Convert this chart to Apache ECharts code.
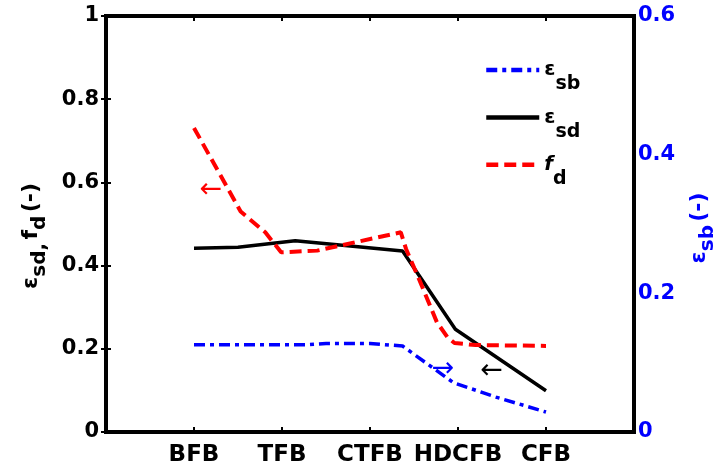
<!DOCTYPE html>
<html><head><meta charset="utf-8">
<script src="https://cdn.jsdelivr.net/npm/echarts@6/dist/echarts.min.js"></script>
<style>html,body{margin:0;padding:0;background:#fff}#c{width:716px;height:467px}</style>
</head><body><div id="c"></div>
<script>
// ---- data ----
const categories = ['BFB', 'TFB', 'CTFB', 'HDCFB', 'CFB'];
// [x position (1..5 = categories), value]
const epsSb = [[1, 0.126], [2.3, 0.126], [2.5, 0.1277], [3, 0.1277], [3.37, 0.124], [3.95, 0.071], [4.43, 0.0504], [5, 0.0288]]; // right axis
const epsSd = [[1, 0.442], [1.5, 0.444], [2.15, 0.460], [3.37, 0.435], [3.97, 0.247], [5, 0.099]];
const fd = [[1, 0.731], [1.53, 0.53], [1.81, 0.48], [1.99, 0.432], [2.4, 0.436], [3.35, 0.48], [3.41, 0.44], [3.58, 0.356], [3.76, 0.264], [3.88, 0.228], [3.96, 0.214], [4.2, 0.209], [5, 0.207]];
const leftRange = [0, 1, 0.2];
const rightRange = [0, 0.6, 0.2];
// annotation arrows (data coordinates)
const arrowFd = [1.19, 0.582];
const arrowSb = [3.83, 0.091];
const arrowSd = [4.38, 0.146];

const FONT = 'DejaVu Sans';
const BLUE = '#0000ff', RED = '#ff0000', BLACK = '#000000';

function richSet(base, sub, L, color) {
  return {
    b: {fontFamily: FONT, fontWeight: 'bold', fontSize: base, lineHeight: L, verticalAlign: 'middle', color: color},
    bi: {fontFamily: FONT, fontWeight: 'bold', fontStyle: 'italic', fontSize: base, lineHeight: L, verticalAlign: 'middle', color: color},
    s: {fontFamily: FONT, fontWeight: 'bold', fontSize: sub, lineHeight: sub, height: sub, verticalAlign: 'bottom', color: color}
  };
}

const chart = echarts.init(document.getElementById('c'), null, {renderer: 'canvas'});

function arrowPoint(coord, text, color) {
  return {
    silent: true,
    symbol: 'circle', symbolSize: 0,
    label: {show: true, position: 'inside', formatter: text, color: color, fontFamily: FONT, fontSize: 27, fontWeight: 'normal'},
    data: [{coord: coord}]
  };
}

const legendNames = {
  'eps_sb': '{b|ε}{s|sb}',
  'eps_sd': '{b|ε}{s|sd}',
  'f_d': '{bi|f}{s|d}'
};

const axisLineStyle = {color: BLACK, width: 4, cap: 'square'};

chart.setOption({
  animation: false,
  backgroundColor: '#fff',
  grid: {left: 106, top: 16, width: 528, height: 416, show: false, containLabel: false, outerBoundsMode: 'none'},
  legend: {
    orient: 'vertical', left: 484, top: 60, padding: 0, itemGap: 13.4,
    itemWidth: 53, itemHeight: 14, selectedMode: false,
    itemStyle: {opacity: 0},
    lineStyle: {width: 4.5},
    data: ['eps_sb', 'eps_sd', 'f_d'],
    formatter: n => legendNames[n],
    textStyle: {rich: richSet(20, 19, 48, BLACK)}
  },
  xAxis: [{
    type: 'value', min: 0, max: 6, interval: 1, position: 'bottom',
    axisLine: {show: true, onZero: false, lineStyle: axisLineStyle},
    axisTick: {show: true, inside: true, length: 5, lineStyle: {color: BLACK, width: 2}},
    splitLine: {show: false},
    axisLabel: {
      margin: 12, color: BLACK, fontFamily: FONT, fontWeight: 'bold', fontSize: 23,
      formatter: v => (v >= 1 && v <= categories.length) ? categories[v - 1] : ''
    }
  }, {
    type: 'value', min: 0, max: 6, interval: 1, position: 'top',
    axisLine: {show: true, onZero: false, lineStyle: axisLineStyle},
    axisTick: {show: true, inside: true, length: 5, lineStyle: {color: BLACK, width: 2}},
    splitLine: {show: false}, axisLabel: {show: false}
  }],
  yAxis: [{
    type: 'value', min: leftRange[0], max: leftRange[1], interval: leftRange[2], position: 'left',
    axisLine: {show: true, onZero: false, lineStyle: axisLineStyle},
    axisTick: {show: true, inside: true, length: 5, lineStyle: {color: BLACK, width: 2}},
    splitLine: {show: false},
    axisLabel: {margin: 7, color: BLACK, fontFamily: FONT, fontWeight: 'bold', fontSize: 21},
    name: '{b|ε}{s|sd,} {b|f}{s|d} {b|(-)}',
    nameLocation: 'middle', nameGap: 56, nameMoveOverlap: false,
    nameTextStyle: {padding: [0, 24, 0, 0], rich: richSet(22, 20, 38, BLACK)}
  }, {
    type: 'value', min: rightRange[0], max: rightRange[1], interval: rightRange[2], position: 'right',
    axisLine: {show: true, onZero: false, lineStyle: axisLineStyle},
    axisTick: {show: false},
    splitLine: {show: false},
    axisLabel: {margin: 4, color: BLUE, fontFamily: FONT, fontWeight: 'bold', fontSize: 21},
    name: '{b|ε}{s|sb} {b|(-)}',
    nameLocation: 'middle', nameGap: 46, nameRotate: 90, nameMoveOverlap: false,
    nameTextStyle: {padding: [0, 8, 0, 0], rich: richSet(22, 20, 38, BLUE)}
  }, {
    type: 'value', min: leftRange[0], max: leftRange[1], interval: leftRange[2], position: 'right',
    axisLine: {show: false},
    axisTick: {show: true, inside: true, length: 5, lineStyle: {color: BLACK, width: 2}},
    splitLine: {show: false}, axisLabel: {show: false}
  }],
  series: [{
    name: 'eps_sb', type: 'line', xAxisIndex: 0, yAxisIndex: 1, data: epsSb,
    symbol: 'none', smooth: false, z: 3,
    lineStyle: {color: BLUE, width: 3.5, type: [11, 5, 4, 5]}, itemStyle: {color: BLUE},
    markPoint: arrowPoint(arrowSb, '→', BLUE)
  }, {
    name: 'eps_sd', type: 'line', xAxisIndex: 0, yAxisIndex: 0, data: epsSd,
    symbol: 'none', smooth: false, z: 3,
    lineStyle: {color: BLACK, width: 3.5, type: 'solid'}, itemStyle: {color: BLACK},
    markPoint: arrowPoint(arrowSd, '←', BLACK)
  }, {
    name: 'f_d', type: 'line', xAxisIndex: 0, yAxisIndex: 0, data: fd,
    symbol: 'none', smooth: false, z: 4,
    lineStyle: {color: RED, width: 4, type: [12, 6]}, itemStyle: {color: RED},
    markPoint: arrowPoint(arrowFd, '←', RED)
  }]
});
</script></body></html>
